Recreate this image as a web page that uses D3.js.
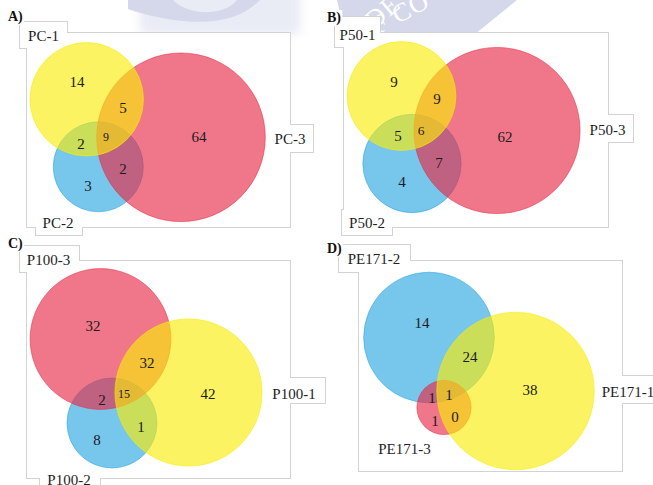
<!DOCTYPE html>
<html>
<head>
<meta charset="utf-8">
<script src="https://cdn.jsdelivr.net/npm/d3@7"></script>
<style>
  html, body { margin: 0; padding: 0; background: #fff; }
  svg { display: block; }
</style>
</head>
<body>
<svg id="chart" width="653" height="485"></svg>
<script>
// ---- Data -------------------------------------------------------------
// Region counts are listed in the order:
// [only set 1, only set 2, only set 3, 1∩2, 1∩3, 2∩3, 1∩2∩3]
const panelLetters = ["A)", "B)", "C)", "D)"];

const setNamesA = ["PC-1", "PC-2", "PC-3"];
const countsA   = [14, 3, 64, 2, 5, 2, 9];

const setNamesB = ["P50-1", "P50-2", "P50-3"];
const countsB   = [9, 4, 62, 5, 9, 7, 6];

const setNamesC = ["P100-1", "P100-2", "P100-3"];
const countsC   = [42, 8, 32, 1, 32, 2, 15];

const setNamesD = ["PE171-1", "PE171-2", "PE171-3"];
const countsD   = [38, 14, 1, 24, 0, 1, 1];

// ---- Layout (panel-local units) ---------------------------------------
const layouts = [
  { ox: 0, oy: 0, letter: [8, 21], rRange: [13.2, 92.7], tripleSize: 12,
    frame: [27, 33, 290, 227],
    boxes: [[20, 22, 67, 48], [36, 211, 82, 235], [272, 125, 313, 152]],
    names: [[43.5, 35.5], [58, 223], [290, 138.5]],
    centers: [[86.7, 99.3], [98.3, 166.8], [181, 137.3]],
    regions: [[77, 82], [88, 186], [199, 137], [81, 144], [123, 108], [123, 169], [106, 137]] },
  { ox: 323, oy: 0, letter: [4, 22], rRange: [13.6, 89.4], tripleSize: 13.5,
    frame: [21, 33, 285, 227],
    boxes: [[12, 17, 57, 47], [19, 210, 69, 235], [263, 115, 310, 142]],
    names: [[34.5, 35], [44, 222.5], [284.5, 129.5]],
    centers: [[78.5, 96], [89, 163.5], [174, 130.5]],
    regions: [[71, 82], [79, 182], [182, 137], [75, 136], [114, 99], [116, 163], [98, 130]] },
  { ox: 0, oy: 230, letter: [8, 18], rRange: [11.8, 76.9], tripleSize: 12,
    frame: [27, 31, 290, 248],
    boxes: [[268, 148, 325, 173], [40, 240, 100, 262], [20, 16, 79, 42]],
    names: [[294, 163.5], [69, 250], [48.5, 30]],
    centers: [[188.5, 162.5], [112, 193], [100.5, 109]],
    regions: [[208, 164], [97, 210], [93, 96], [141, 197], [147, 133], [102, 170], [124, 164]] },
  { ox: 323, oy: 230, letter: [4, 23], rRange: [12.7, 95.9], tripleSize: 15,
    frame: [36, 31, 299, 241],
    boxes: [[275, 146, 339, 173], [16, 15, 87, 42], null],
    names: [[305, 162], [51, 29], [81.5, 218.5]],
    centers: [[192.5, 161], [106, 107.5], [121, 177.5]],
    regions: [[207, 160], [99, 93], [112, 191], [147, 127], [132, 187], [109, 168], [126, 165]] }
];

const panels = [
  { names: setNamesA, counts: countsA },
  { names: setNamesB, counts: countsB },
  { names: setNamesC, counts: countsC },
  { names: setNamesD, counts: countsD }
];

// set 1 yellow, set 2 blue, set 3 red; drawn blue, red, then yellow on top
const setColors = ["#F8EC08", "#2AA6E2", "#E82B47"];
const drawOrder = [1, 2, 0];
const serif = "'Liberation Serif', 'Times New Roman', Times, serif";

const svg = d3.select("#chart");

const defs = svg.append("defs");
defs.append("filter").attr("id", "haze")
  .attr("filterUnits", "userSpaceOnUse")
  .attr("x", 0).attr("y", -60).attr("width", 653).attr("height", 160)
  .append("feGaussianBlur").attr("stdDeviation", 5);

// ---- Faint seal in the page background --------------------------------
const seal = svg.append("g");
const sealColor = "#d4d8ea";
seal.append("path")
  .attr("d", "M140,-10L300,-10L300,34L140,34Z")
  .attr("fill", "#e9ebf5").attr("filter", "url(#haze)");
seal.append("path")
  .attr("d",
    "M128,0L128,9C150,17 185,24 214,21C238,18 251,9 260,0Z" +
    "M173,0C180,8 195,13 210,12C224,11 232,6 237,0Z")
  .attr("fill", sealColor).attr("fill-rule", "evenodd");
seal.append("path")
  .attr("d", "M337,0L517,0L475,34L345,34Z")
  .attr("fill", sealColor);
seal.append("text").text("DE")
  .attr("transform", "translate(374,30) rotate(-40)")
  .attr("font-family", serif).attr("font-size", 26).attr("fill", "#fff")
  .attr("letter-spacing", 1);
seal.append("text").text("OF CO")
  .attr("transform", "translate(360,44) rotate(-28)")
  .attr("font-family", serif).attr("font-size", 26).attr("fill", "#fff")
  .attr("letter-spacing", 1);

// ---- Panels -------------------------------------------------------------
panels.forEach((panel, pi) => {
  const L = layouts[pi];
  const x = d3.scaleLinear().domain([0, 330]).range([L.ox, L.ox + 330]);
  const y = d3.scaleLinear().domain([0, 255]).range([L.oy, L.oy + 255]);
  const c = panel.counts;
  // totals of each set: its own region + shared regions
  const totals = [
    c[0] + c[3] + c[4] + c[6],
    c[1] + c[3] + c[5] + c[6],
    c[2] + c[4] + c[5] + c[6]
  ];
  const r = d3.scaleSqrt().domain([0, 100]).range(L.rRange);
  const g = svg.append("g");

  // outline of frame + name boxes: a wide stroke, then white fills on top,
  // so only the outer edge of the merged shape remains
  const rects = [L.frame, ...L.boxes.filter(Boolean)];
  const rx = d => x(d[0]), ry = d => y(d[1]);
  const rw = d => x(d[2]) - x(d[0]), rh = d => y(d[3]) - y(d[1]);
  g.selectAll("rect.edge").data(rects).join("rect").attr("class", "edge")
    .attr("x", rx).attr("y", ry).attr("width", rw).attr("height", rh)
    .attr("fill", "none").attr("stroke", "#d3d3d3").attr("stroke-width", 2);
  g.selectAll("rect.bg").data(rects).join("rect").attr("class", "bg")
    .attr("x", rx).attr("y", ry).attr("width", rw).attr("height", rh)
    .attr("fill", "#fff");

  // circles
  const circles = drawOrder.map(i => ({ i, cx: L.centers[i][0], cy: L.centers[i][1], total: totals[i] }));
  g.selectAll("circle").data(circles).join("circle")
    .attr("cx", d => x(d.cx)).attr("cy", d => y(d.cy))
    .attr("r", d => r(d.total))
    .attr("fill", d => setColors[d.i]).attr("fill-opacity", 0.64)
    .attr("stroke", d => setColors[d.i]).attr("stroke-opacity", 0.55)
    .attr("stroke-width", 1);

  // region counts
  g.selectAll("text.count").data(c).join("text").attr("class", "count")
    .attr("x", (d, k) => x(L.regions[k][0]))
    .attr("y", (d, k) => y(L.regions[k][1]))
    .attr("text-anchor", "middle").attr("dominant-baseline", "central")
    .attr("font-family", serif)
    .attr("font-size", (d, k) => k === 6 ? L.tripleSize : 15)
    .attr("fill", "#1b1b1b")
    .text(d => d);

  // set names
  g.selectAll("text.name").data(panel.names).join("text").attr("class", "name")
    .attr("x", (d, k) => x(L.names[k][0]))
    .attr("y", (d, k) => y(L.names[k][1]))
    .attr("text-anchor", "middle").attr("dominant-baseline", "central")
    .attr("font-family", serif).attr("font-size", 15).attr("fill", "#1e1e1e")
    .text(d => d);

  // panel letter on a white patch
  const lt = g.append("text")
    .attr("x", x(L.letter[0])).attr("y", y(L.letter[1]))
    .attr("font-family", serif).attr("font-size", 14).attr("font-weight", "bold")
    .attr("fill", "#111").text(panelLetters[pi]);
  const bb = lt.node().getBBox();
  g.insert("rect", () => lt.node())
    .attr("x", bb.x - 1).attr("y", bb.y).attr("width", bb.width + 2).attr("height", bb.height)
    .attr("fill", "#fff");
});
</script>
</body>
</html>
